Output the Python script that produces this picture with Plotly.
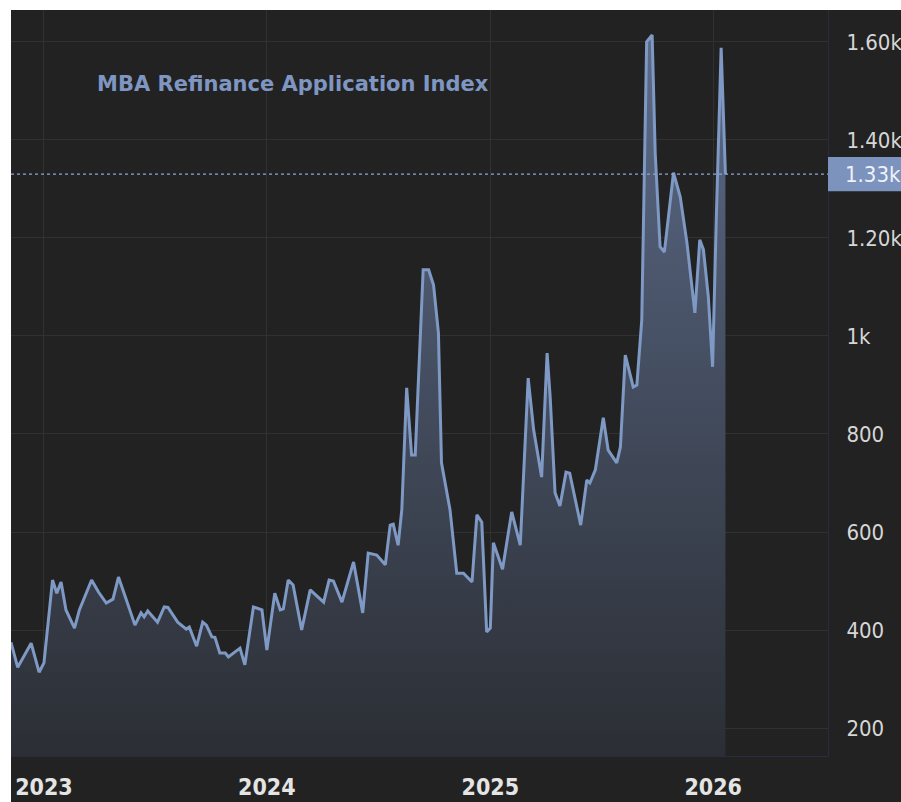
import plotly.graph_objects as go

# weekly MBA refinance index, turning points
dates = [
    "2022-11-08", "2022-11-19", "2022-12-11", "2022-12-24", "2023-01-01", "2023-01-15",
    "2023-01-22", "2023-01-29", "2023-02-06", "2023-02-20", "2023-02-28", "2023-03-20",
    "2023-03-31", "2023-04-13", "2023-04-24", "2023-05-03", "2023-05-15", "2023-05-30",
    "2023-06-09", "2023-06-14", "2023-06-20", "2023-07-06", "2023-07-17", "2023-07-23",
    "2023-08-08", "2023-08-22", "2023-08-27", "2023-09-08", "2023-09-18", "2023-09-24",
    "2023-10-03", "2023-10-08", "2023-10-16", "2023-10-25", "2023-10-30", "2023-11-18",
    "2023-11-26", "2023-12-10", "2023-12-24", "2024-01-01", "2024-01-14", "2024-01-23",
    "2024-01-28", "2024-02-05", "2024-02-13", "2024-02-27", "2024-03-12", "2024-04-03",
    "2024-04-12", "2024-04-19", "2024-05-03", "2024-05-22", "2024-06-06", "2024-06-15",
    "2024-06-29", "2024-07-13", "2024-07-21", "2024-07-26", "2024-08-03", "2024-08-09",
    "2024-08-17", "2024-08-25", "2024-08-31", "2024-09-13", "2024-09-22", "2024-09-30",
    "2024-10-08", "2024-10-13", "2024-10-27", "2024-11-07", "2024-11-18", "2024-12-02",
    "2024-12-10", "2024-12-18", "2024-12-26", "2025-01-01", "2025-01-06", "2025-01-21",
    "2025-02-05", "2025-02-19", "2025-03-04", "2025-03-13", "2025-03-26", "2025-04-04",
    "2025-04-09", "2025-04-17", "2025-04-25", "2025-05-05", "2025-05-11", "2025-05-29",
    "2025-06-08", "2025-06-13", "2025-06-22", "2025-07-05", "2025-07-13", "2025-07-27",
    "2025-08-02", "2025-08-10", "2025-08-23", "2025-08-29", "2025-09-06", "2025-09-14",
    "2025-09-23", "2025-09-28", "2025-10-06", "2025-10-13", "2025-10-28", "2025-11-08",
    "2025-11-19", "2025-12-02", "2025-12-10", "2025-12-16", "2025-12-24", "2025-12-31",
    "2026-01-06", "2026-01-14", "2026-01-21",
]
index_values = [
    375, 324, 373, 314, 333, 502,
    475, 498, 441, 404, 441, 502,
    478, 455, 463, 508, 465, 410,
    435, 427, 439, 416, 447, 446,
    416, 402, 406, 367, 416, 410,
    386, 385, 353, 353, 345, 363,
    329, 447, 441, 359, 475, 441,
    443, 502, 492, 400, 482, 457,
    502, 500, 457, 539, 435, 557,
    553, 533, 614, 616, 573, 645,
    894, 757, 757, 1135, 1135, 1104,
    1006, 741, 645, 516, 516, 498,
    635, 620, 396, 404, 578, 524,
    641, 573, 914, 808, 712, 965,
    875, 680, 653, 722, 720, 614,
    706, 700, 727, 833, 767, 741,
    773, 961, 896, 900, 1033, 1600,
    1614, 1373, 1182, 1171, 1333, 1284,
    1190, 1047, 1196, 1176, 1080, 937,
    1237, 1588, 1330,
]

y_ticks = [200, 400, 600, 800, 1000, 1200, 1400, 1600]
y_tick_text = ["200", "400", "600", "800", "1k", "1.20k", "1.40k", "1.60k"]
last_value = 1330
last_label = "1.33k"
title_text = "MBA Refinance Application Index"

bg = "#222222"
grid = "#313131"
line_col = "#7f99c5"
fnt = "DejaVu Sans Condensed, DejaVu Sans, sans-serif"

fig = go.Figure()
fig.add_trace(go.Scatter(
    x=dates, y=index_values, mode="lines",
    line=dict(color=line_col, width=3),
    fill="tozeroy",
    fillgradient=dict(type="vertical", start=143, stop=1614,
                      colorscale=[[0, "#2b2e34"], [1, "#5c6b89"]]),
    hoverinfo="skip",
))

W, H = 901, 802
ml, mr, mt, mb = 11, 73, 10, 46
pw, ph = W - ml - mr, H - mt - mb

fig.update_layout(
    width=W, height=H, autosize=False,
    margin=dict(l=ml, r=mr, t=mt, b=mb),
    paper_bgcolor=bg, plot_bgcolor=bg,
    showlegend=False,
    font=dict(family=fnt, color="#d6d6d6"),
    xaxis=dict(
        type="date", range=["2022-11-08", "2026-07-08"],
        dtick="M12", tick0="2023-01-01", tickformat="%Y",
        showgrid=True, gridcolor=grid, gridwidth=1,
        zeroline=False, showline=True, linecolor="#2a2a40", linewidth=1,
        automargin=False, ticklabelstandoff=10,
        tickfont=dict(family=fnt, size=23, color="#e4e4e4", weight="bold"),
    ),
    yaxis=dict(
        side="right", range=[143, 1665],
        tickvals=y_ticks, ticktext=y_tick_text,
        showgrid=True, gridcolor=grid, gridwidth=1,
        zeroline=False, showline=True, linecolor="#2a2a40", linewidth=1,
        automargin=False, ticklabelstandoff=13,
        tickfont=dict(family=fnt, size=22, color="#d6d6d6"),
    ),
)

# last value marker: dotted line and label box
fig.add_shape(type="line", xref="paper", yref="y", x0=0, x1=1,
              y0=last_value, y1=last_value,
              line=dict(color="#8fa6cf", width=1.2, dash="dot"))
fig.add_shape(type="rect", xref="paper", yref="y", x0=1, x1=1 + mr / pw,
              y0=last_value - 35, y1=last_value + 35,
              fillcolor="#7c93bd", line=dict(width=0), layer="above")
fig.add_annotation(x=1, xref="paper", y=last_value, yref="y",
                   text=last_label, showarrow=False, xanchor="left", xshift=15,
                   font=dict(family=fnt, size=22, color="#eef2f8"))

fig.add_annotation(x=(95 - ml) / pw, xref="paper", y=1 - (84 - mt) / ph, yref="paper",
                   text=title_text, showarrow=False, xanchor="left", yanchor="middle",
                   font=dict(family="DejaVu Sans, sans-serif", size=21, color="#7e96c1",
                             weight="bold"))

# white screenshot border on top and left
fig.add_shape(type="rect", xref="paper", yref="paper", x0=-ml / pw, x1=1 + mr / pw,
              y0=1, y1=1 + mt / ph, fillcolor="white", line=dict(width=0), layer="above")
fig.add_shape(type="rect", xref="paper", yref="paper", x0=-ml / pw, x1=0,
              y0=-mb / ph, y1=1 + mt / ph, fillcolor="white", line=dict(width=0), layer="above")

fig.write_html(
    "out.html",
    config={"responsive": False, "displayModeBar": False},
    post_script="document.body.style.margin='0px';",
)
